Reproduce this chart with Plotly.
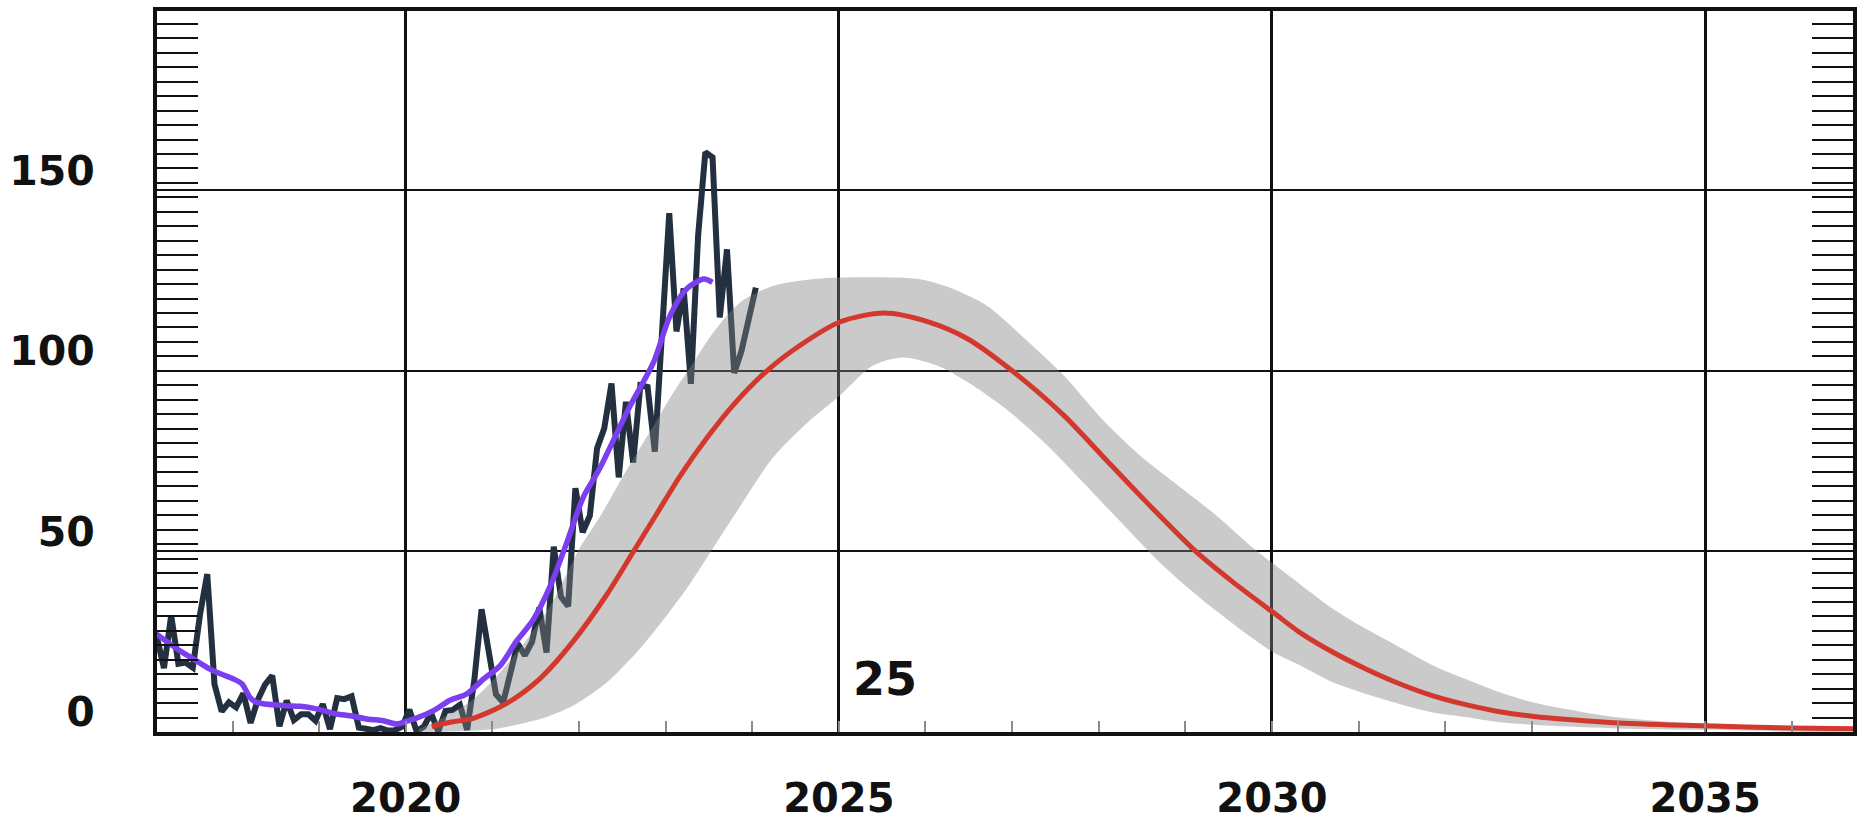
import plotly.graph_objects as go

# ---- observed monthly sunspot number (Jan 2017 .. Jan 2024) ----
obs_start_year = 2017
obs_values = [
    26.1, 26.4, 17.7, 32.3, 18.9, 19.2, 17.8, 32.6, 43.7, 13.2, 5.7, 8.2,
    6.8, 10.7, 2.5, 8.9, 13.1, 15.6, 1.6, 8.7, 3.3, 4.9, 4.9, 3.1,
    7.7, 0.8, 9.4, 9.1, 9.9, 1.2, 0.9, 0.5, 1.1, 0.4, 0.5, 1.5,
    6.2, 0.2, 1.5, 5.2, 0.2, 5.8, 6.1, 7.5, 0.6, 14.4, 34.0, 21.8,
    10.4, 8.2, 17.2, 24.5, 21.2, 25.0, 34.4, 22.0, 51.3, 37.4, 34.8, 67.5,
    55.3, 59.9, 78.5, 84.1, 96.5, 70.5, 91.4, 74.6, 96.0, 95.5, 77.6, 113.1,
    143.6, 110.9, 122.8, 96.4, 137.4, 160.5, 159.1, 114.8, 133.6, 99.4, 105.4, 114.2,
    123.0,
]
obs_x = [obs_start_year + (i + 0.5) / 12 for i in range(len(obs_values))]

# ---- smoothed sunspot number ----
smooth_x = [2017.10, 2017.36, 2017.55, 2017.74, 2017.86, 2018.01, 2018.11, 2018.20,
            2018.28, 2018.59, 2018.78, 2018.97, 2019.20, 2019.36, 2019.55, 2019.74,
            2019.90, 2020.01, 2020.13, 2020.32, 2020.51, 2020.70, 2020.90, 2021.09,
            2021.28, 2021.47, 2021.67, 2021.86, 2022.05, 2022.24, 2022.59, 2022.86,
            2023.05, 2023.24, 2023.44, 2023.54]
smooth_y = [27.5, 23.0, 20.2, 17.4, 16.1, 14.7, 13.3, 9.6,
            8.2, 7.3, 7.1, 6.4, 5.0, 4.5, 3.6, 3.1,
            2.2, 3.0, 3.9, 5.9, 8.8, 10.5, 14.7, 18.4,
            25.2, 31.0, 40.5, 52.5, 65.0, 73.0, 90.3, 102.3,
            115.2, 122.6, 125.4, 124.5]

# ---- predicted cycle 25 ----
pred_x = [2020.30, 2020.51, 2020.78, 2021.17, 2021.55, 2021.93, 2022.32, 2022.63,
          2022.90, 2023.17, 2023.48, 2023.78, 2024.17, 2024.55, 2025.01, 2025.52,
          2026.05, 2026.49, 2027.00, 2027.60, 2028.04, 2028.48, 2029.12, 2029.55,
          2030.02, 2030.32, 2030.71, 2031.09, 2031.48, 2031.86, 2032.25, 2032.63,
          2033.02, 2033.50, 2034.00, 2035.00, 2036.00, 2036.75]
pred_y = [1.5, 2.7, 3.8, 8.0, 14.8, 25.0, 38.0, 50.0,
          60.5, 71.0, 81.5, 90.5, 100.0, 107.0, 113.5, 116.0,
          113.4, 108.8, 100.0, 87.6, 76.5, 65.4, 50.0, 41.5,
          33.0, 27.6, 22.0, 17.4, 13.3, 10.0, 7.5, 5.6,
          4.3, 3.3, 2.5, 1.7, 1.1, 0.9]

# ---- prediction uncertainty band ----
band_upper_x = [2020.15, 2020.40, 2020.78, 2021.09, 2021.40, 2021.67, 2022.01, 2022.24,
                2022.55, 2022.86, 2023.09, 2023.32, 2023.55, 2023.86, 2024.24, 2024.72,
                2025.00, 2025.92, 2026.27, 2026.71, 2027.15, 2027.60, 2028.04, 2028.48,
                2028.92, 2029.36, 2029.80, 2030.32, 2030.71, 2031.09, 2031.48, 2031.86,
                2032.25, 2032.63, 2033.02, 2033.98, 2035.00, 2035.90, 2036.75]
band_upper_y = [0.8, 3.6, 9.1, 16.5, 25.7, 35.0, 51.0, 59.5,
                72.5, 84.8, 94.0, 102.3, 110.6, 118.9, 123.5, 125.4,
                125.8, 125.4, 123.1, 118.0, 108.8, 98.6, 86.6, 76.5,
                68.2, 59.9, 50.6, 41.0, 34.0, 28.5, 23.4, 18.4,
                14.5, 11.0, 8.2, 4.1, 2.2, 1.2, 0.8]
band_lower_x = [2020.15, 2020.60, 2021.01, 2021.55, 2021.93, 2022.32, 2022.70, 2023.01,
                2023.28, 2023.55, 2023.86, 2024.24, 2024.63, 2025.01, 2025.39, 2025.74,
                2026.14, 2026.49, 2026.93, 2027.37, 2027.82, 2028.26, 2028.70, 2029.14,
                2029.58, 2030.02, 2030.32, 2030.71, 2031.09, 2031.48, 2031.86, 2032.25,
                2032.63, 2033.02, 2034.00, 2035.00, 2036.75]
band_lower_y = [0.0, 0.2, 0.8, 3.6, 7.3, 13.7, 23.0, 32.2,
                41.0, 51.0, 62.5, 76.0, 85.5, 93.1, 101.4, 103.7,
                101.4, 96.8, 89.4, 80.2, 69.1, 58.0, 47.0, 37.7,
                29.4, 22.0, 18.5, 13.7, 10.5, 7.7, 5.4, 4.1,
                2.7, 2.0, 1.0, 0.6, 0.4]

# ---- axis ticks / labels ----
x_tickvals = [2020, 2025, 2030, 2035]
x_ticktext = ["2020", "2025", "2030", "2035"]
y_tickvals = [0, 50, 100, 150]
y_ticktext = ["0", "50", "100", "150"]
cycle_label = "25"
cycle_label_pos = (2025.53, 14.7)

FONT = "DejaVu Sans"
INK = "#111111"

fig = go.Figure()

fig.add_trace(go.Scatter(
    x=obs_x, y=obs_values, mode="lines",
    line=dict(color="#22303f", width=6),
    hoverinfo="skip", showlegend=False,
))

fig.add_trace(go.Scatter(
    x=band_upper_x + band_lower_x[::-1],
    y=band_upper_y + band_lower_y[::-1],
    mode="lines", fill="toself",
    fillcolor="rgba(128,128,128,0.42)",
    line=dict(width=0, color="rgba(0,0,0,0)", shape="spline", smoothing=0.8),
    hoverinfo="skip", showlegend=False,
))

fig.add_trace(go.Scatter(
    x=pred_x, y=pred_y, mode="lines",
    line=dict(color="#d2382e", width=5, shape="spline", smoothing=0.8),
    hoverinfo="skip", showlegend=False,
))

fig.add_trace(go.Scatter(
    x=smooth_x, y=smooth_y, mode="lines",
    line=dict(color="#7b3ff0", width=5.5, shape="spline", smoothing=0.8),
    hoverinfo="skip", showlegend=False,
))

fig.add_annotation(
    x=cycle_label_pos[0], y=cycle_label_pos[1], text=cycle_label,
    showarrow=False, xanchor="center", yanchor="middle",
    font=dict(family=FONT, size=46, color=INK, weight="bold"),
)

fig.update_xaxes(
    range=[2017.128, 2036.708], automargin=False,
    tickmode="array", tickvals=x_tickvals, ticktext=x_ticktext,
    ticks="", showgrid=True, gridcolor=INK, gridwidth=3,
    showline=True, linecolor=INK, linewidth=4, mirror=True,
    zeroline=False,
    tickfont=dict(family=FONT, size=40, color=INK, weight="bold"),
    ticklabelstandoff=28,
    minor=dict(dtick=1, tick0=2020, ticks="inside", ticklen=11,
               tickwidth=2, tickcolor="#8c8c8c", showgrid=False),
)

fig.update_yaxes(
    range=[0, 199.6], automargin=False,
    tickmode="array", tickvals=y_tickvals, ticktext=y_ticktext,
    ticks="inside", ticklen=41, tickwidth=2, tickcolor=INK,
    showgrid=True, gridcolor=INK, gridwidth=2,
    showline=True, linecolor=INK, linewidth=4, mirror="ticks",
    zeroline=False,
    tickfont=dict(family=FONT, size=41, color=INK, weight="bold"),
    ticklabelstandoff=50, ticklabelshift=-20,
    minor=dict(dtick=4, tick0=0, ticks="inside", ticklen=41,
               tickwidth=2, tickcolor=INK, showgrid=False),
)

fig.update_layout(
    width=1858, height=821,
    margin=dict(l=157, r=5, t=11, b=89, pad=0),
    paper_bgcolor="white", plot_bgcolor="white",
    showlegend=False,
)

fig.write_html(
    "out.html",
    config={"displayModeBar": False},
    post_script="document.body.style.margin='0';"
                "document.documentElement.style.overflow='hidden';",
)
